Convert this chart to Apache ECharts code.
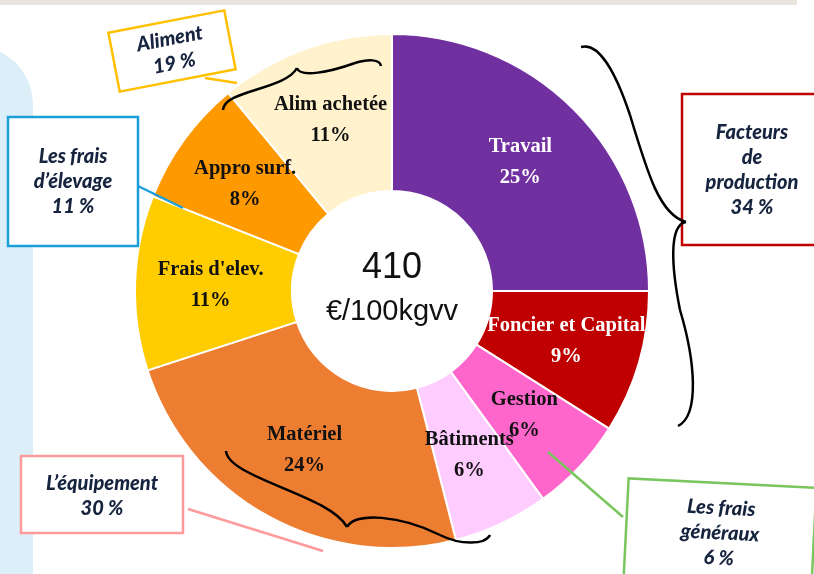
<!DOCTYPE html>
<html>
<head>
<meta charset="utf-8">
<script src="https://cdn.jsdelivr.net/npm/echarts@6/dist/echarts.min.js"></script>
<style>
html,body{margin:0;padding:0;background:#fff;}
#chart{width:814px;height:574px;}
</style>
</head>
<body>
<div id="chart"></div>
<script>
// ---- data ----
const categories = ['Travail', 'Foncier et Capital', 'Gestion', 'Bâtiments', 'Matériel', "Frais d'elev.", 'Appro surf.', 'Alim achetée'];
const values = [25, 9, 6, 6, 24, 11, 8, 11];
const centerValue = '410';
const centerUnit = '€/100kgvv';
const groupNames = ['Aliment', 'Les frais\nd’élevage', 'L’équipement', 'Facteurs\nde\nproduction', 'Les frais\ngénéraux'];
const groupPercents = [19, 11, 30, 34, 6];

// ---- styles ----
const sliceColors = ['#7030A0', '#C00000', '#FF66CC', '#FFCCFF', '#ED7D31', '#FFCC00', '#FF9900', '#FFF2CC'];
const labelColors = ['#fff', '#fff', '#111', '#111', '#111', '#111', '#111', '#111'];
const navy = '#16243F';
const annFont = {fontFamily: 'Lato', fontStyle: 'italic', fontWeight: 900, fontSize: 20};

const chart = echarts.init(document.getElementById('chart'), null, {renderer: 'canvas'});

function annText(text, x, y) {
  return {type: 'text', x: x, y: y, z: 120,
    style: Object.assign({text: text, fill: navy, align: 'center', verticalAlign: 'middle', lineHeight: 25}, annFont)};
}
function bez(p) {
  return {type: 'bezierCurve', shape: {x1: p[0], y1: p[1], cpx1: p[2], cpy1: p[3], cpx2: p[4], cpy2: p[5], x2: p[6], y2: p[7]},
    style: {stroke: '#000', lineWidth: 2.5, fill: null}, z: 110};
}
function line(x1, y1, x2, y2, c) {
  return {type: 'line', shape: {x1: x1, y1: y1, x2: x2, y2: y2}, style: {stroke: c, lineWidth: 2.5}, z: 105};
}

const graphics = [
  // background
  {type: 'rect', shape: {x: 0, y: 0, width: 797, height: 5}, style: {fill: '#EAE4DE'}, z: -10},
  {type: 'rect', shape: {x: -100, y: 45, width: 133, height: 620, r: [0, 60, 0, 0]}, style: {fill: '#DCEEF8'}, z: -10},
  // center text
  {type: 'text', x: 392, y: 268, style: {text: centerValue, fill: '#111', align: 'center', verticalAlign: 'middle', fontFamily: 'Liberation Sans', fontSize: 36}, z: 100},
  {type: 'text', x: 392, y: 312, style: {text: centerUnit, fill: '#111', align: 'center', verticalAlign: 'middle', fontFamily: 'Liberation Sans', fontSize: 29}, z: 100},
  // Aliment box (rotated)
  {type: 'group', x: 172, y: 51, rotation: 0.19, children: [
    {type: 'rect', shape: {x: -59, y: -30, width: 118, height: 60}, style: {fill: '#fff', stroke: '#FFC000', lineWidth: 2.5}, z: 100},
    annText(groupNames[0] + '\n' + groupPercents[0] + ' %', 0, 0)
  ]},
  line(205, 78, 237, 83, '#FFC000'),
  // Les frais d'élevage box
  {type: 'rect', shape: {x: 8, y: 117, width: 130, height: 129}, style: {fill: '#fff', stroke: '#1A9FD9', lineWidth: 2.5}, z: 100},
  annText(groupNames[1] + '\n' + groupPercents[1] + ' %', 73, 182),
  line(138, 186, 183, 208, '#1A9FD9'),
  // L'équipement box
  {type: 'rect', shape: {x: 21, y: 456, width: 162, height: 77}, style: {fill: '#fff', stroke: '#FF9B9B', lineWidth: 2.5}, z: 100},
  annText(groupNames[2] + '\n' + groupPercents[2] + ' %', 102, 496),
  line(188, 509, 323, 551, '#FF9B9B'),
  // Facteurs de production box
  {type: 'rect', shape: {x: 682, y: 94, width: 145, height: 151}, style: {fill: '#fff', stroke: '#C00000', lineWidth: 2.5}, z: 100},
  annText(groupNames[3] + '\n' + groupPercents[3] + ' %', 752, 170),
  // Les frais généraux box (rotated)
  {type: 'group', x: 720, y: 533, rotation: -0.05, children: [
    {type: 'rect', shape: {x: -94, y: -50, width: 188, height: 100}, style: {fill: '#fff', stroke: '#7AC65E', lineWidth: 2.5}, z: 100},
    annText(groupNames[4] + '\n' + groupPercents[4] + ' %', 0, 0)
  ]},
  line(548, 452, 623, 517, '#7AC65E'),
  // braces
  bez([223, 110, 224, 90, 285, 90, 297, 68]),
  bez([297, 68, 300, 78, 330, 72, 355, 63]),
  bez([355, 63, 368, 59, 380, 59, 381, 66]),
  bez([581, 47, 598, 42, 615, 70, 630, 115]),
  bez([630, 115, 648, 175, 660, 215, 686, 222]),
  bez([686, 222, 668, 225, 672, 270, 680, 310]),
  bez([680, 310, 695, 360, 700, 415, 678, 426]),
  bez([226, 451, 228, 478, 330, 495, 347, 527]),
  bez([347, 527, 355, 512, 400, 515, 440, 535]),
  bez([440, 535, 460, 545, 485, 545, 490, 535])
];

const seriesData = categories.map((c, i) => ({
  name: c,
  value: values[i],
  itemStyle: {color: sliceColors[i]},
  label: {color: labelColors[i]}
}));

chart.setOption({
  animation: false,
  backgroundColor: '#fff',
  series: [{
    type: 'pie',
    center: [392, 291],
    radius: [100, 257],
    startAngle: 90,
    clockwise: true,
    avoidLabelOverlap: false,
    silent: true,
    itemStyle: {borderColor: '#fff', borderWidth: 2},
    label: {
      show: true,
      position: 'inside',
      formatter: '{b}\n{c}%',
      fontFamily: 'Liberation Serif',
      fontWeight: 'bold',
      fontSize: 20.5,
      lineHeight: 31
    },
    labelLayout: {hideOverlap: false},
    labelLine: {show: false},
    data: seriesData
  }],
  graphic: graphics
});
</script>
</body>
</html>
